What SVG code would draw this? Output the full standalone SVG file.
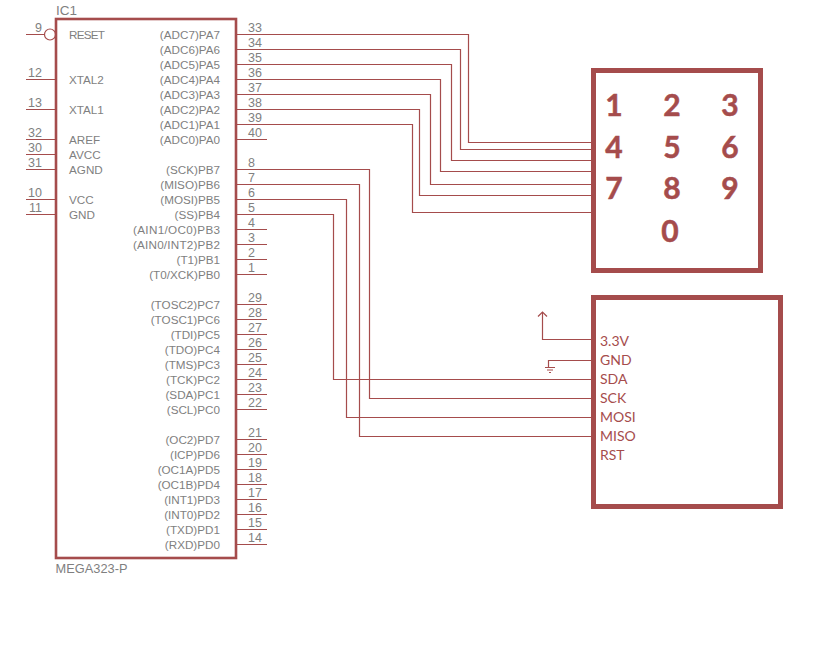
<svg xmlns="http://www.w3.org/2000/svg" width="840" height="651" viewBox="0 0 840 651">
<style>
.box{fill:none;stroke:#a54c4c}
.w{fill:none;stroke:#a54c4c;stroke-width:1.2}
text{font-family:"Liberation Sans",Arial,sans-serif}
.l{font-size:11.7px;fill:#7f7f7f}
.r{font-size:11.7px;fill:#7f7f7f;text-anchor:end}
.nl{font-size:12.5px;fill:#7f7f7f;text-anchor:end}
.nr{font-size:12.5px;fill:#7f7f7f}
.d{font-family:"Lato","Open Sans",sans-serif;font-weight:700;font-size:30px;fill:#a54c4c;stroke:#a54c4c;stroke-width:.5;text-anchor:middle}
.m{font-family:"Lato","Open Sans",sans-serif;font-size:14px;fill:#a54c4c}
</style>
<rect width="840" height="651" fill="#fff"/>
<g id="connectors" class="w">
<path d="M237 34.5H468.5V142.5H591"/>
<path d="M237 49.5H460.5V149.5H591"/>
<path d="M237 64.5H451.5V160.5H591"/>
<path d="M237 79.5H440.5V171.5H591"/>
<path d="M237 94.5H430.5V184.5H591"/>
<path d="M237 109.5H419.5V195.5H591"/>
<path d="M237 124.5H412.5V212.5H591"/>
<path d="M237 169.5H369.5V398.5H591"/>
<path d="M237 184.5H359.5V436.5H591"/>
<path d="M237 199.5H346.5V417.5H591"/>
<path d="M237 214.5H333.5V379.5H591"/>
<path d="M591 339.5H542.5V312"/>
<path d="M538 316.5L542.5 312L547 316.5"/>
<path d="M591 360.5H548.5V367"/>
<path d="M545 367.5H555M547 370H553M549 372.5H551"/>
</g>
<g id="ic1">
<rect class="box" x="56" y="19" width="180" height="539" stroke-width="2.6"/>
<text class="l" x="56" y="14.500" style="font-size:13.5px" textLength="21">IC1</text>
<text class="l" x="55.500" y="573" style="font-size:12.8px" textLength="72">MEGA323-P</text>
<g class="w">
<circle cx="50" cy="34.5" r="5.5"/>
<path d="M26 34.5H44.5M26 79.5H56M26 109.5H56M26 139.5H56M26 154.5H56M26 169.5H56M26 199.5H56M26 214.5H56"/>
<path d="M237 139.5H267M237 229.5H267M237 244.5H267M237 259.5H267M237 274.5H267M237 304.5H267M237 319.5H267M237 334.5H267M237 349.5H267M237 364.5H267M237 379.5H267M237 394.5H267M237 409.5H267M237 439.5H267M237 454.5H267M237 469.5H267M237 484.5H267M237 499.5H267M237 514.5H267M237 529.5H267M237 544.5H267"/>
</g>
<text class="l" x="69" y="39" textLength="36">RESET</text><text class="l" x="69" y="84">XTAL2</text><text class="l" x="69" y="114">XTAL1</text><text class="l" x="69" y="144">AREF</text><text class="l" x="69" y="159">AVCC</text><text class="l" x="69" y="174">AGND</text><text class="l" x="69" y="204">VCC</text><text class="l" x="69" y="219">GND</text>
<text class="nl" x="42" y="32">9</text><text class="nl" x="42" y="77">12</text><text class="nl" x="42" y="107">13</text><text class="nl" x="42" y="137">32</text><text class="nl" x="42" y="152">30</text><text class="nl" x="42" y="167">31</text><text class="nl" x="42" y="197">10</text><text class="nl" x="42" y="212">11</text>
<text class="r" x="220" y="39">(ADC7)PA7</text><text class="r" x="220" y="54">(ADC6)PA6</text><text class="r" x="220" y="69">(ADC5)PA5</text><text class="r" x="220" y="84">(ADC4)PA4</text><text class="r" x="220" y="99">(ADC3)PA3</text><text class="r" x="220" y="114">(ADC2)PA2</text><text class="r" x="220" y="129">(ADC1)PA1</text><text class="r" x="220" y="144">(ADC0)PA0</text>
<text class="r" x="220" y="174">(SCK)PB7</text><text class="r" x="220" y="189">(MISO)PB6</text><text class="r" x="220" y="204">(MOSI)PB5</text><text class="r" x="220" y="219">(SS)PB4</text><text class="r" x="220" y="234" textLength="87">(AIN1/OC0)PB3</text><text class="r" x="220" y="249" textLength="87">(AIN0/INT2)PB2</text><text class="r" x="220" y="264">(T1)PB1</text><text class="r" x="220" y="279">(T0/XCK)PB0</text>
<text class="r" x="220" y="309">(TOSC2)PC7</text><text class="r" x="220" y="324">(TOSC1)PC6</text><text class="r" x="220" y="339">(TDI)PC5</text><text class="r" x="220" y="354">(TDO)PC4</text><text class="r" x="220" y="369">(TMS)PC3</text><text class="r" x="220" y="384">(TCK)PC2</text><text class="r" x="220" y="399">(SDA)PC1</text><text class="r" x="220" y="414">(SCL)PC0</text>
<text class="r" x="220" y="444">(OC2)PD7</text><text class="r" x="220" y="459">(ICP)PD6</text><text class="r" x="220" y="474">(OC1A)PD5</text><text class="r" x="220" y="489">(OC1B)PD4</text><text class="r" x="220" y="504">(INT1)PD3</text><text class="r" x="220" y="519">(INT0)PD2</text><text class="r" x="220" y="534">(TXD)PD1</text><text class="r" x="220" y="549">(RXD)PD0</text>
<text class="nr" x="248" y="32">33</text><text class="nr" x="248" y="47">34</text><text class="nr" x="248" y="62">35</text><text class="nr" x="248" y="77">36</text><text class="nr" x="248" y="92">37</text><text class="nr" x="248" y="107">38</text><text class="nr" x="248" y="122">39</text><text class="nr" x="248" y="137">40</text>
<text class="nr" x="248" y="167">8</text><text class="nr" x="248" y="182">7</text><text class="nr" x="248" y="197">6</text><text class="nr" x="248" y="212">5</text><text class="nr" x="248" y="227">4</text><text class="nr" x="248" y="242">3</text><text class="nr" x="248" y="257">2</text><text class="nr" x="248" y="272">1</text>
<text class="nr" x="248" y="302">29</text><text class="nr" x="248" y="317">28</text><text class="nr" x="248" y="332">27</text><text class="nr" x="248" y="347">26</text><text class="nr" x="248" y="362">25</text><text class="nr" x="248" y="377">24</text><text class="nr" x="248" y="392">23</text><text class="nr" x="248" y="407">22</text>
<text class="nr" x="248" y="437">21</text><text class="nr" x="248" y="452">20</text><text class="nr" x="248" y="467">19</text><text class="nr" x="248" y="482">18</text><text class="nr" x="248" y="497">17</text><text class="nr" x="248" y="512">16</text><text class="nr" x="248" y="527">15</text><text class="nr" x="248" y="542">14</text>
</g>
<g id="keypad">
<rect class="box" x="593.5" y="70.5" width="167" height="200" stroke-width="5"/>
<text class="d" x="614" y="116">1</text><text class="d" x="672" y="116">2</text><text class="d" x="730" y="116">3</text>
<text class="d" x="614" y="158">4</text><text class="d" x="672" y="158">5</text><text class="d" x="730" y="158">6</text>
<text class="d" x="614" y="199">7</text><text class="d" x="672" y="199">8</text><text class="d" x="730" y="199">9</text>
<text class="d" x="670" y="241.500">0</text>
</g>
<g id="module">
<rect class="box" x="593.5" y="297.500" width="187" height="209" stroke-width="5"/>
<text class="m" x="600" y="346">3.3V</text><text class="m" x="600" y="365">GND</text><text class="m" x="600" y="384">SDA</text><text class="m" x="600" y="403">SCK</text><text class="m" x="600" y="422">MOSI</text><text class="m" x="600" y="441">MISO</text><text class="m" x="600" y="460">RST</text>
</g>
</svg>
